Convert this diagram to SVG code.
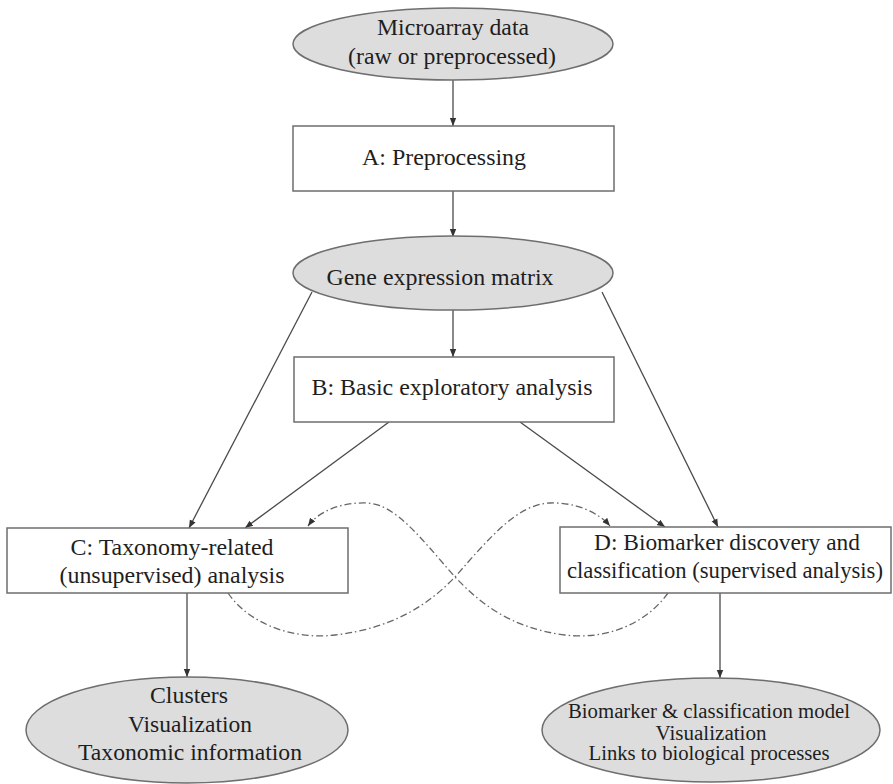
<svg xmlns="http://www.w3.org/2000/svg" width="893" height="784" viewBox="0 0 893 784">
<style>
.ell{fill:#dddddd;stroke:#6e6e6e;stroke-width:1.5}
.box{fill:#ffffff;stroke:#6e6e6e;stroke-width:1.5}
.t{font-family:"Liberation Serif","Times New Roman",serif;font-size:24px;fill:#1e1e1e;text-anchor:middle}
.s{font-size:23px}
.r{font-size:20px}
.q{font-size:22.5px}
.ln{fill:none;stroke:#4a4a4a;stroke-width:1.3}
.dd{fill:none;stroke:#666666;stroke-width:1.3;stroke-dasharray:7,3,1.5,3}
</style>
<defs>
<marker id="ah" viewBox="0 0 10 10" refX="10" refY="5" markerWidth="8" markerHeight="8" markerUnits="userSpaceOnUse" orient="auto">
<path d="M0,1 L10,5 L0,9 Z" fill="#333333"/>
</marker>
</defs>
<rect width="893" height="784" fill="#ffffff"/>
<g id="connectors">
<line class="ln" x1="453" y1="80" x2="453" y2="126" marker-end="url(#ah)"/>
<line class="ln" x1="453" y1="191" x2="453" y2="237" marker-end="url(#ah)"/>
<line class="ln" x1="453" y1="310" x2="453" y2="357" marker-end="url(#ah)"/>
<line class="ln" x1="312" y1="292" x2="189" y2="528" marker-end="url(#ah)"/>
<line class="ln" x1="389" y1="422" x2="245" y2="528" marker-end="url(#ah)"/>
<line class="ln" x1="602" y1="292" x2="718" y2="527" marker-end="url(#ah)"/>
<line class="ln" x1="520" y1="422" x2="665" y2="527" marker-end="url(#ah)"/>
<line class="ln" x1="187" y1="593" x2="187" y2="677" marker-end="url(#ah)"/>
<line class="ln" x1="720" y1="593" x2="720" y2="678" marker-end="url(#ah)"/>
<path class="dd" d="M228,593 C250,625 295,640 335,635 C395,628 430,603 455,577 C490,537 518,504 550,503 C575,502 598,512 610,526" marker-end="url(#ah)"/>
<path class="dd" d="M668,593 C645,625 605,640 565,635 C510,628 480,603 455,577 C420,537 395,504 367,503 C340,502 318,512 308,526" marker-end="url(#ah)"/>
</g>
<g id="microarray">
<ellipse class="ell" cx="453" cy="44" rx="160" ry="36"/>
<text class="t" x="453" y="35" textLength="152" lengthAdjust="spacingAndGlyphs">Microarray data</text>
<text class="t" x="452" y="64" textLength="208" lengthAdjust="spacingAndGlyphs">(raw or preprocessed)</text>
</g>
<g id="A">
<rect class="box" x="293" y="126" width="321" height="65"/>
<text class="t" x="444" y="165" textLength="164" lengthAdjust="spacingAndGlyphs">A: Preprocessing</text>
</g>
<g id="gene">
<ellipse class="ell" cx="453" cy="273" rx="160" ry="37"/>
<text class="t" x="440" y="285" textLength="227" lengthAdjust="spacingAndGlyphs">Gene expression matrix</text>
</g>
<g id="B">
<rect class="box" x="294" y="357" width="320" height="65"/>
<text class="t" x="452" y="395" textLength="281" lengthAdjust="spacingAndGlyphs">B: Basic exploratory analysis</text>
</g>
<g id="C">
<rect class="box" x="7" y="528" width="341" height="65"/>
<text class="t" x="172" y="555" textLength="203" lengthAdjust="spacingAndGlyphs">C: Taxonomy-related</text>
<text class="t" x="172" y="583" textLength="225" lengthAdjust="spacingAndGlyphs">(unsupervised) analysis</text>
</g>
<g id="D">
<rect class="box" x="560" y="527" width="331" height="66"/>
<text class="t" x="727" y="550" textLength="266" lengthAdjust="spacingAndGlyphs">D: Biomarker discovery and</text>
<text class="t q" x="725" y="578" textLength="316" lengthAdjust="spacingAndGlyphs">classification (supervised analysis)</text>
</g>
<g id="clusters">
<ellipse class="ell" cx="187" cy="730" rx="161" ry="53"/>
<text class="t s" x="189" y="703" textLength="78" lengthAdjust="spacingAndGlyphs">Clusters</text>
<text class="t s" x="190" y="732" textLength="124" lengthAdjust="spacingAndGlyphs">Visualization</text>
<text class="t s" x="190" y="760" textLength="224" lengthAdjust="spacingAndGlyphs">Taxonomic information</text>
</g>
<g id="biomarker">
<ellipse class="ell" cx="711" cy="730" rx="169" ry="52"/>
<text class="t r" x="709" y="718" textLength="282" lengthAdjust="spacingAndGlyphs">Biomarker &amp; classification model</text>
<text class="t r" x="711" y="740" textLength="111" lengthAdjust="spacingAndGlyphs">Visualization</text>
<text class="t r" x="709" y="760" textLength="241" lengthAdjust="spacingAndGlyphs">Links to biological processes</text>
</g>
</svg>
